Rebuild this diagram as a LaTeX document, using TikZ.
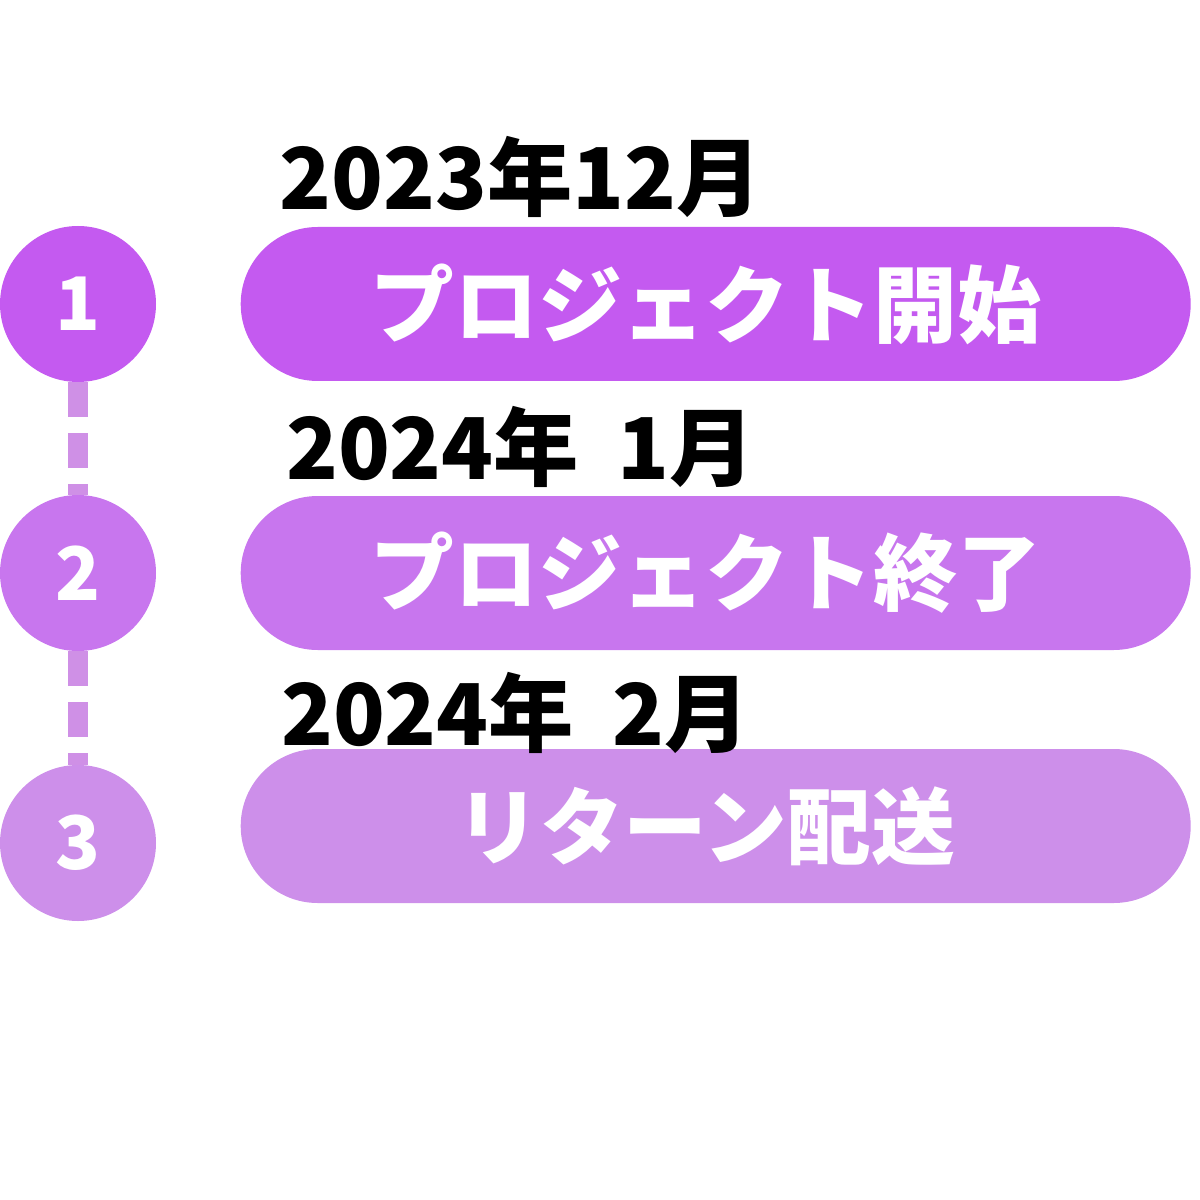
\documentclass[tikz,border=0pt]{standalone}
\usepackage{fontspec}
\setmainfont{Noto Sans CJK JP}
\usetikzlibrary{positioning, calc, shapes.misc}
\definecolor{stepOne}{HTML}{C45AF0}
\definecolor{stepTwo}{HTML}{C876EE}
\definecolor{stepThree}{HTML}{CD8FEA}
\definecolor{stepDash}{HTML}{CF90E6}
\tikzset{
  dashLink/.style={draw=stepDash, line width=0.4cm, dash pattern=on 0.7cm off 0.32cm},
  stepDot/.style={circle, minimum size=3.12cm, inner sep=0pt, text=white,
                  font=\bfseries\fontsize{42}{42}\selectfont},
  pillBox/.style={rounded rectangle, minimum width=19cm, minimum height=3.08cm,
                  inner sep=0pt, text=white, font=\bfseries\fontsize{47.7}{47.7}\selectfont,
                  execute at end node={\hspace*{0.4cm}}},
  dateLbl/.style={anchor=base, inner sep=0pt, text=black,
                  font=\bfseries\fontsize{48.5}{48.5}\selectfont},
}
\begin{document}
\begin{tikzpicture}[node distance=1.68cm]
    \useasboundingbox (0,0) rectangle (24,-24);
    % steps
    \node[stepDot, fill=stepOne] (c1) at (1.56,-6.08) {1};
    \node[stepDot, fill=stepTwo] (c2) at (1.56,-11.46) {2};
    \node[stepDot, fill=stepThree] (c3) at (1.56,-16.86) {3};
    \draw[dashLink] (c1) -- (c2);
    \draw[dashLink] (c2) -- (c3);
    % pills
    \node[pillBox, fill=stepOne, right=of c1] (p1) {プロジェクト開始};
    \node[pillBox, fill=stepTwo, right=of c2] (p2) {プロジェクト終了};
    \node[pillBox, fill=stepThree, right=of c3, yshift=0.34cm] (p3) {リターン配送};
    % dates
    \node[dateLbl] (d1) at ($(p1.west |- p1.north)+(5.6,0.34)$) {2023年12月};
    \node[dateLbl] (d2) at ($(p2.west |- p2.north)+(5.6,0.32)$) {2024年\hspace{0.45em}1月};
    \node[dateLbl] (d3) at ($(p3.west |- p3.north)+(5.5,0.06)$) {2024年\hspace{0.45em}2月};
\end{tikzpicture}
\end{document}
